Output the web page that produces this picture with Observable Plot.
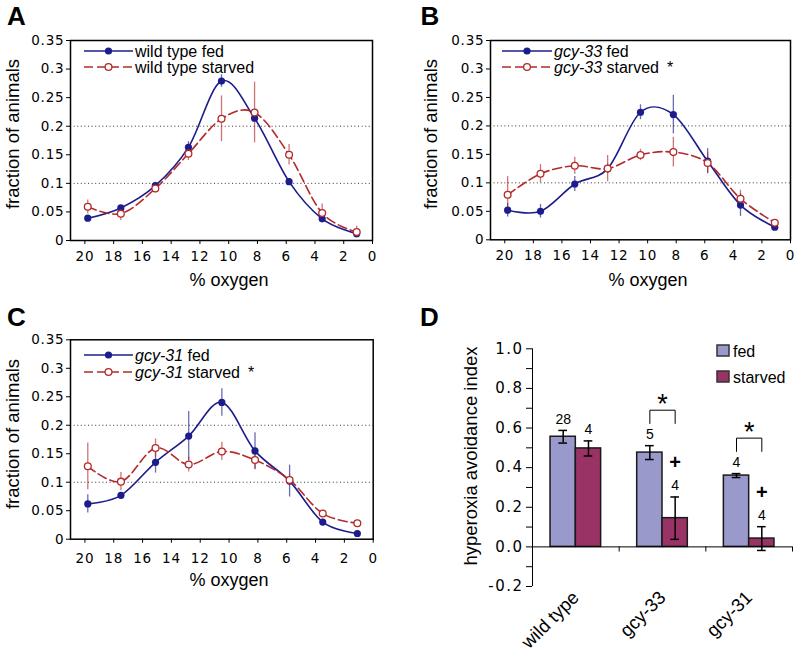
<!DOCTYPE html>
<html><head><meta charset="utf-8">
<script src="https://cdn.jsdelivr.net/npm/d3@7"></script>
<script src="https://cdn.jsdelivr.net/npm/@observablehq/plot@0.6"></script>
<style>
html,body{margin:0;padding:0;background:#fff;}
#fig{position:relative;width:800px;height:661px;overflow:hidden;font-family:"Liberation Sans",Arial,sans-serif;}
#overlay{position:absolute;left:0;top:0;pointer-events:none;}
#overlay text{white-space:pre;}
</style></head>
<body><div id="fig"></div>
<script>
// ---------- data ----------
const oxygen = [19.8, 17.5, 15.1, 12.8, 10.5, 8.2, 5.8, 3.5, 1.1];
const xTicks = [20, 18, 16, 14, 12, 10, 8, 6, 4, 2, 0];
const yTicks = [0, 0.05, 0.1, 0.15, 0.2, 0.25, 0.3, 0.35];
const gridLevels = [0.1, 0.2];

// A: wild type
const wtFed        = [0.039, 0.057, 0.096, 0.163, 0.279, 0.214, 0.103, 0.038, 0.012];
const wtFedErr     = [0.004, 0.004, 0.006, 0.010, 0.011, 0.006, 0.004, 0.004, 0.004];
const wtStarved    = [0.059, 0.047, 0.091, 0.152, 0.213, 0.224, 0.150, 0.048, 0.015];
const wtStarvedErr = [0.012, 0.012, 0.008, 0.012, 0.040, 0.053, 0.018, 0.016, 0.010];
// B: gcy-33
const g33Fed        = [0.052, 0.050, 0.098, 0.125, 0.224, 0.220, 0.138, 0.061, 0.022];
const g33FedErr     = [0.012, 0.012, 0.013, 0.008, 0.013, 0.034, 0.022, 0.020, 0.005];
const g33Starved    = [0.079, 0.116, 0.130, 0.125, 0.149, 0.154, 0.135, 0.072, 0.030];
const g33StarvedErr = [0.032, 0.016, 0.015, 0.023, 0.010, 0.026, 0.018, 0.015, 0.005];
// C: gcy-31
const g31Fed        = [0.062, 0.077, 0.135, 0.181, 0.240, 0.155, 0.102, 0.030, 0.010];
const g31FedErr     = [0.016, 0.005, 0.019, 0.043, 0.024, 0.032, 0.028, 0.005, 0.003];
const g31Starved    = [0.128, 0.101, 0.160, 0.131, 0.154, 0.139, 0.104, 0.045, 0.028];
const g31StarvedErr = [0.041, 0.016, 0.016, 0.013, 0.016, 0.017, 0.010, 0.006, 0.004];

// D: hyperoxia avoidance index
const groups     = ["wild type", "gcy-33", "gcy-31"];
const fedIdx     = [0.556, 0.476, 0.360];
const fedIdxErr  = [0.032, 0.035, 0.010];
const stIdx      = [0.497, 0.145, 0.042];
const stIdxErr   = [0.038, 0.107, 0.060];
const fedN       = ["28", "5", "4"];
const stN        = ["4", "4", "4"];
const stPlus     = [false, true, true];   // "+" marks
const sigBracket = [false, true, true];   // "*" fed vs starved
const yTicksD    = [-0.2, -0.1, 0, 0.1, 0.2, 0.3, 0.4, 0.5, 0.6, 0.7, 0.8, 0.9, 1.0];

// ---------- styles ----------
const NAVY = "#1c1c8c", RED = "#b42a2a", LAV = "#9999cc", MAROON = "#993366";
const fig = document.getElementById("fig");

function place(el, left, top) {
  el.style.position = "absolute"; el.style.left = left + "px"; el.style.top = top + "px";
  fig.appendChild(el);
}

function linePanel(fed, fedErr, starved, starvedErr, left, top, m, xPad) {
  const mk = (vals, errs) => oxygen.map((o, i) => ({o, v: vals[i], e: errs[i]}));
  const F = mk(fed, fedErr), S = mk(starved, starvedErr);
  const p = Plot.plot({
    width: 400, height: 300,
    marginLeft: m[0], marginRight: m[1], marginTop: m[2], marginBottom: m[3],
    style: {background: "transparent", color: "#000", fontFamily: "'DejaVu Sans', sans-serif", fontSize: "13.5px", overflow: "visible"},
    x: {domain: [21, 0]},
    y: {domain: [0, 0.35]},
    marks: [
      Plot.ruleY(gridLevels, {stroke: "#333", strokeWidth: 1, strokeDasharray: "1,2.6"}),
      Plot.ruleX(F, {x: "o", y1: d => d.v - d.e, y2: d => d.v + d.e, stroke: NAVY, strokeOpacity: 0.65, strokeWidth: 1.3}),
      Plot.ruleX(S, {x: "o", y1: d => d.v - d.e, y2: d => d.v + d.e, stroke: RED, strokeOpacity: 0.65, strokeWidth: 1.3}),
      Plot.line(F, {x: "o", y: "v", curve: "cardinal", stroke: NAVY, strokeWidth: 1.6}),
      Plot.dot(F, {x: "o", y: "v", r: 3.6, fill: NAVY}),
      Plot.line(S, {x: "o", y: "v", curve: "cardinal", stroke: RED, strokeWidth: 1.6, strokeDasharray: "9,4"}),
      Plot.dot(S, {x: "o", y: "v", r: 3.4, fill: "#fff", stroke: RED, strokeWidth: 1.3}),
      Plot.frame({stroke: "#000", strokeWidth: 1.5}),
      Plot.axisX({ticks: xTicks, tickFormat: d => String(d), tickSize: 4, tickPadding: xPad, label: null}),
      Plot.axisY({ticks: yTicks, tickFormat: d => String(d), tickSize: 4, tickPadding: 2, label: null})
    ]
  });
  d3.select(p).selectAll('g[aria-label$="tick label"]').style("letter-spacing", "0.8px");
  place(p, left, top);
}

linePanel(wtFed, wtFedErr, wtStarved, wtStarvedErr, 0, 0, [70, 28, 40, 60], 7);
linePanel(g33Fed, g33FedErr, g33Starved, g33StarvedErr, 400, 0, [90, 10, 40, 60.7], 7);
linePanel(g31Fed, g31FedErr, g31Starved, g31StarvedErr, 0, 300, [70, 27.3, 39.3, 61.3], 10);

// ---------- panel D ----------
const BW = 0.292, CAP = 0.05;
const dRows = (vals, errs, ns, isFed) => groups.map((g, i) => {
  const x1 = isFed ? i + 0.5 - BW : i + 0.5, x2 = isFed ? i + 0.5 : i + 0.5 + BW;
  return {g, i, v: vals[i], e: errs[i], n: ns[i], x1, x2, c: (x1 + x2) / 2};
});
const DF = dRows(fedIdx, fedIdxErr, fedN, true);
const DS = dRows(stIdx, stIdxErr, stN, false);
const bracketPts = [], bracketStars = [];
groups.forEach((g, i) => {
  if (!sigBracket[i]) return;
  const lb = DF[i].v + DF[i].e + 0.112, tp = lb + 0.067;
  bracketPts.push({g, x: DF[i].c, y: lb}, {g, x: DF[i].c, y: tp}, {g, x: DS[i].c, y: tp}, {g, x: DS[i].c, y: lb});
  bracketStars.push({x: (DF[i].c + DS[i].c) / 2, y: tp + 0.03});
});
const errMarks = R => [
  Plot.ruleX(R, {x: "c", y1: d => d.v - d.e, y2: d => d.v + d.e, stroke: "#000", strokeWidth: 1.5}),
  Plot.ruleY(R, {y: d => d.v + d.e, x1: d => d.c - CAP, x2: d => d.c + CAP, stroke: "#000", strokeWidth: 1.5}),
  Plot.ruleY(R, {y: d => d.v - d.e, x1: d => d.c - CAP, x2: d => d.c + CAP, stroke: "#000", strokeWidth: 1.5}),
  Plot.text(R, {x: "c", y: d => d.v + d.e, text: "n", dy: -11, fontSize: 14, fontFamily: "Liberation Sans", lineAnchor: "middle"})
];
const pD = Plot.plot({
  width: 400, height: 361,
  marginLeft: 132, marginRight: 8, marginTop: 48.3, marginBottom: 75,
  style: {background: "transparent", color: "#000", fontFamily: "'DejaVu Sans', sans-serif", fontSize: "15px", overflow: "visible"},
  x: {domain: [0, 3]},
  y: {domain: [-0.2, 1.0]},
  marks: [
    Plot.rect(DF, {x1: "x1", x2: "x2", y1: 0, y2: "v", fill: LAV, stroke: "#1a1a1a", strokeWidth: 1.5}),
    Plot.rect(DS, {x1: "x1", x2: "x2", y1: 0, y2: "v", fill: MAROON, stroke: "#1a1a1a", strokeWidth: 1.5}),
    Plot.ruleY([0], {stroke: "#000", strokeWidth: 1}),
    Plot.ruleX([0], {stroke: "#000", strokeWidth: 1}),
    Plot.ruleX([1, 2, 3], {y1: 0, y2: -0.026, stroke: "#000", strokeWidth: 1}),
    Plot.axisY({ticks: yTicksD, tickFormat: d => Math.round(d * 10) % 2 === 0 ? d.toFixed(1) : "", tickSize: 6, tickPadding: 3, label: null}),
    Plot.axisX({ticks: groups.map((g, i) => i + 0.5), tickFormat: d => groups[Math.floor(d)], tickRotate: -45, tickSize: 0, tickPadding: 8, fontSize: 18.5, fontFamily: "Liberation Sans", label: null}),
    ...errMarks(DF), ...errMarks(DS),
    Plot.text(DS.filter((d, i) => stPlus[i]), {x: "c", y: d => d.v + d.e, text: () => "+", dy: -34, fontSize: 20, fontWeight: "bold", fontFamily: "Liberation Sans"}),
    Plot.line(bracketPts, {x: "x", y: "y", z: "g", stroke: "#000", strokeWidth: 1}),
    Plot.text(bracketStars, {x: "x", y: "y", text: () => "*", fontSize: 27, fontFamily: "Liberation Sans"})
  ]
});
d3.select(pD).selectAll('g[aria-label="y-axis tick label"]').style("letter-spacing", "1.5px");
place(pD, 400, 300);

// ---------- overlay: panel letters, titles, legends ----------
const ov = d3.select(fig).append("svg").attr("id", "overlay").attr("width", 800).attr("height", 661)
  .attr("font-family", "'Liberation Sans', Arial, sans-serif");
[["A", 7, 25], ["B", 420.5, 25], ["C", 7, 326], ["D", 420, 326]].forEach(([t, x, y]) =>
  ov.append("text").attr("x", x).attr("y", y).attr("font-size", 26).attr("font-weight", "bold").text(t));

function yTitle(text, cx, cy, size) {
  ov.append("text").attr("transform", `translate(${cx},${cy}) rotate(-90)`).attr("text-anchor", "middle")
    .attr("dy", "0.35em").attr("font-size", size).text(text);
}
function xTitle(text, cx, base, size) {
  ov.append("text").attr("x", cx).attr("y", base).attr("text-anchor", "middle").attr("font-size", size).text(text);
}
yTitle("fraction of animals", 13, 134, 18.5);
yTitle("fraction of animals", 431, 134, 18.5);
yTitle("fraction of animals", 13, 434, 18.5);
xTitle("% oxygen", 229, 286, 18);
xTitle("% oxygen", 648, 286, 18);
xTitle("% oxygen", 229, 586, 18);
yTitle("hyperoxia avoidance index", 471, 456, 18.5);

function legendRow(x0, x1, y, fedStyle, parts) {
  const col = fedStyle ? NAVY : RED;
  ov.append("line").attr("x1", x0).attr("x2", x1).attr("y1", y).attr("y2", y)
    .attr("stroke", col).attr("stroke-width", 1.6).attr("stroke-dasharray", fedStyle ? null : "9,4");
  ov.append("circle").attr("cx", (x0 + x1) / 2).attr("cy", y).attr("r", fedStyle ? 3.6 : 3.4)
    .attr("fill", fedStyle ? NAVY : "#fff").attr("stroke", fedStyle ? "none" : RED).attr("stroke-width", 1.3);
  const t = ov.append("text").attr("x", x1 + 2).attr("y", y + 5.5).attr("font-size", 16);
  parts.forEach(([s, it, dx]) => t.append("tspan").attr("font-style", it ? "italic" : null).attr("dx", dx || null).text(s));
}
legendRow(84, 133, 51, true, [["wild type fed"]]);
legendRow(84, 133, 67, false, [["wild type starved"]]);
legendRow(502, 552, 51, true, [["gcy-33", true], [" fed"]]);
legendRow(502, 552, 67, false, [["gcy-33", true], [" starved"], ["*", false, 8]]);
legendRow(84, 133, 355, true, [["gcy-31", true], [" fed"]]);
legendRow(84, 133, 372, false, [["gcy-31", true], [" starved"], ["*", false, 8]]);

// legend D
[[LAV, "fed", 345, 356.5], [MAROON, "starved", 371, 383]].forEach(([c, s, y0, base]) => {
  ov.append("rect").attr("x", 717).attr("y", y0).attr("width", 12).attr("height", 11)
    .attr("fill", c).attr("stroke", "#333").attr("stroke-width", 1.5);
  ov.append("text").attr("x", 733).attr("y", base).attr("font-size", 16).text(s);
});
</script>
</body></html>
